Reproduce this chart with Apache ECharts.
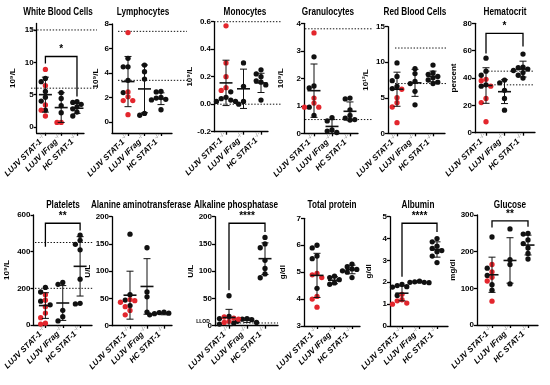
<!DOCTYPE html>
<html><head><meta charset="utf-8">
<script src="https://cdn.jsdelivr.net/npm/echarts@6/dist/echarts.min.js"></script>
<style>html,body{margin:0;padding:0;background:#fff}#c{width:550px;height:385px}</style>
</head><body><div id="c"></div><script>
// ---------- categories / labels ----------
const groups = ['LUJV STAT-1', 'LUJV IFrag', 'HC STAT-1'];
const titles = ['White Blood Cells','Lymphocytes','Monocytes','Granulocytes','Red Blood Cells','Hematocrit',
                'Platelets','Alanine aminotransferase','Alkaline phosphatase','Total protein','Albumin','Glucose'];
const yNames = ['10⁹/L','10⁹/L','10⁹/L','10⁹/L','10¹²/L','percent','10⁹/L','U/L','U/L','g/dl','g/dl','mg/dl'];
const yTicks = [[0,5,10,15],[0,2,4,6,8],[-0.2,0,0.2,0.4,0.6],[0,1,2,3,4],[0,5,10,15],[0,20,40,60,80],
                [0,200,400,600],[0,50,100,150,200],[0,50,100,150,200],[3,4,5,6,7],[0,1,2,3,4,5],[0,100,200,300]];

// ---------- data (per group: LUJV STAT-1, LUJV IFrag, HC STAT-1) ----------
const wbcBlack = [[7.5,7.0,5.5,4.6,4.0,2.6],[5.3,4.4,3.3,2.2],[3.9,3.8,3.5,3.1,2.8,2.3,1.7]];
const wbcRed   = [[8.9,6.4,3.4,2.6,1.7],[0.7,0.7],[]];
const wbcMean  = [5.0,3.0,2.9];
const wbcSd    = [2.7,2.3,0.8];
const wbcRef   = [15,6];

const lymBlack = [[5.2,4.5,4.5,3.4,2.4],[4.65,4.1,3.5,0.7,0.55],[2.5,2.45,2.0,1.95,1.85,1.8,1.0]];
const lymRed   = [[7.3,2.45,2.05,1.75,1.75,0.6],[],[]];
const lymMean  = [3.3,2.7,1.9];
const lymSd    = [2.05,1.95,0.48];
const lymRef   = [7.4,3.4];

const monBlack = [[0.09,0.05,0.04,0.03,0.02,0.02],[0.30,0.13,0.02,0.0],[0.25,0.22,0.20,0.17,0.16,0.14,0.03]];
const monRed   = [[0.57,0.30,0.20,0.12,0.10],[],[]];
const monMean  = [0.155,0.112,0.155];
const monSd    = [0.165,0.143,0.07];
const monRef   = [0.6,0.0];

const graBlack = [[2.78,1.72,1.65,0.95,0.65],[0.57,0.45,0.12,0.08,0.03],[1.28,1.25,0.85,0.65,0.55,0.5,0.48]];
const graRed   = [[3.65,1.28,1.1,0.95,0.95],[],[]];
const graMean  = [1.55,0.25,0.8];
const graSd    = [0.97,0.25,0.34];
const graRef   = [3.8,0.5];

const rbcBlack = [[9.9,8.0,7.4,6.6,6.3,6.1],[9.1,8.4,7.3,7.0,5.9,4.0],[9.6,8.5,8.3,8.0,7.8,7.5,7.2,7.0]];
const rbcRed   = [[6.2,5.0,4.3,3.7,1.5],[],[]];
const rbcMean  = [6.2,7.1,8.0];
const rbcSd    = [2.4,1.9,0.75];
const rbcRef   = [12,7];

const hctBlack = [[54.5,45,42,35,34],[38.5,36.5,31,25,16.5],[57.5,48,47.5,46.5,45.5,44,42,40]];
const hctRed   = [[39,38,34,25,22,8],[],[]];
const hctMean  = [34.5,30,46.5];
const hctSd    = [13,8.7,5.8];
const hctRef   = [45,35];

const pltBlack = [[205,180,130,110],[232,222,80,45,22],[490,462,440,410,250,115,118]];
const pltRed   = [[165,135,100,65,40,10,5],[],[]];
const pltMean  = [106,120,320];
const pltSd    = [70,95,162];
const pltRef   = [450,200];

const altBlack = [[168,57,47,37],[143,62,53,25],[25,24,23,22,21,20,20]];
const altRed   = [[48,46,43,35,28,20],[],[]];
const altMean  = [56,72,22];
const altSd    = [44,51,2];
const altRef   = [];

const alpBlack = [[55,17,13,5,3],[13,12,11,8,6],[162,150,143,120,105,95,88]];
const alpRed   = [[16,14,12,10,8,6],[],[]];
const alpMean  = [15,10,123];
const alpSd    = [15,4,29];
const alpRef   = [5];

const tpBlack  = [[6.0,5.9,5.6,5.5,4.4],[4.85,4.8,4.72,4.6,4.55],[5.3,5.2,5.12,5.1,5.05,5.0,4.8]];
const tpRed    = [[4.95,4.9,4.8,4.1,4.0,3.7],[],[]];
const tpMean   = [4.88,4.7,5.1];
const tpSd     = [0.82,0.13,0.16];
const tpRef    = [];

const albBlack = [[1.9,1.85,1.8,1.78,1.4],[2.05,2.02,2.0,2.0,1.98],[4.0,3.85,3.65,3.55,3.45,3.4,3.2,2.9]];
const albRed   = [[1.45,1.2,1.15,1.05,1.0],[],[]];
const albMean  = [1.5,2.01,3.5];
const albSd    = [0.35,0.03,0.35];
const albRef   = [];

const gluBlack = [[240,155,135,110,95],[262,178,165,112],[250,248,232,222,210,195,180]];
const gluRed   = [[165,145,130,120,65],[],[]];
const gluMean  = [137,176,218];
const gluSd    = [48,62,27];
const gluRef   = [];

// significance brackets: panel index, top value, left leg end, right leg end, label
const sigPanel = [0,5,6,8,10,11];
const sigTop   = [10.9,72.7,555,188,4.7,284];
const sigLeft  = [9.8,58,427,65,2.25,266];
const sigRight = [4.7,63,515,172,4.3,268];
const sigLabel = ['*','*','**','****','****','**'];

// ---------- layout (pixels) ----------
const FONT = "'Liberation Sans','Arial',sans-serif";
const P = [
 {black:wbcBlack,red:wbcRed,mean:wbcMean,sd:wbcSd,ref:wbcRef, tx:58, ty:12, nameX:10, L:30,R:84,T:23.5,B:132.8,ymin:-0.9,ymax:16, c0:40,s:18, refX:[31,97]},
 {black:lymBlack,red:lymRed,mean:lymMean,sd:lymSd,ref:lymRef, tx:143,ty:12, nameX:100,L:112,R:172,T:24,B:133,ymin:-0.9,ymax:8, c0:128,s:16.5, refX:[118,187]},
 {black:monBlack,red:monRed,mean:monMean,sd:monSd,ref:monRef, tx:245,ty:12, nameX:195,L:214,R:268,T:21.7,B:131.7,ymin:-0.2,ymax:0.6, c0:226,s:17.5, refX:[214,282], dec:1},
 {black:graBlack,red:graRed,mean:graMean,sd:graSd,ref:graRef, tx:328,ty:12, nameX:285,L:304,R:358,T:23.3,B:133.3,ymin:0,ymax:4, c0:314,s:18, refX:[305,372]},
 {black:rbcBlack,red:rbcRed,mean:rbcMean,sd:rbcSd,ref:rbcRef, tx:415,ty:12, nameX:370,L:388,R:445,T:26.7,B:133.3,ymin:0,ymax:15, c0:397,s:18, refX:[395,446]},
 {black:hctBlack,red:hctRed,mean:hctMean,sd:hctSd,ref:hctRef, tx:505,ty:12, nameX:458,L:475,R:535,T:23.3,B:132.7,ymin:0,ymax:80, c0:486,s:18.5, refX:[485,533]},
 {black:pltBlack,red:pltRed,mean:pltMean,sd:pltSd,ref:pltRef, tx:63, ty:205,nameX:10, L:33,R:92,T:215,B:325,ymin:0,ymax:600, c0:45,s:17.5, refX:[35,93]},
 {black:altBlack,red:altRed,mean:altMean,sd:altSd,ref:altRef, tx:141,ty:205,nameX:95, L:112,R:172,T:216.7,B:325.7,ymin:0,ymax:200, c0:130,s:17},
 {black:alpBlack,red:alpRed,mean:alpMean,sd:alpSd,ref:alpRef, tx:236,ty:205,nameX:197,L:215,R:278,T:216.7,B:325.7,ymin:0,ymax:200, c0:229,s:18, refX:[215,278], refLabel:'LLOD'},
 {black:tpBlack, red:tpRed, mean:tpMean, sd:tpSd, ref:tpRef,  tx:332,ty:205,nameX:287,L:304,R:360,T:218.3,B:326,ymin:3,ymax:7, c0:317,s:17.5},
 {black:albBlack,red:albRed,mean:albMean,sd:albSd,ref:albRef, tx:418,ty:205,nameX:373,L:390,R:448,T:216.7,B:326,ymin:0,ymax:5, c0:402,s:17.5},
 {black:gluBlack,red:gluRed,mean:gluMean,sd:gluSd,ref:gluRef, tx:510,ty:205,nameX:458,L:477,R:538,T:215,B:325,ymin:0,ymax:300, c0:492,s:18}
];

const SYM = 5.3;
// simple beeswarm layout of the points of one group (offsets in pixels -> axis units)
function swarm(blackVals, redVals, cat, pxX, pxY) {
  const pts = blackVals.map(v => ({v, red:false})).concat(redVals.map(v => ({v, red:true})));
  pts.sort((a, b) => b.v - a.v);
  const placed = [];
  const step = SYM * 0.9;
  for (const p of pts) {
    for (const k of [0, -1, 1, -2, 2, -3, 3, -4, 4]) {
      const dx = k * step;
      const ok = placed.every(q => Math.hypot(q.dx - dx, (q.v - p.v) * pxY) >= SYM * 0.88);
      if (ok) { p.dx = dx; break; }
    }
    if (p.dx === undefined) p.dx = 0;
    placed.push(p);
  }
  return pts.map(p => ({value: [cat + p.dx / pxX, p.v], red: p.red}));
}

const grid = [], xAxis = [], yAxis = [], series = [], graphic = [];
P.forEach((p, i) => {
  const xmin = (p.L - p.c0) / p.s, xmax = (p.R - p.c0) / p.s;
  const pxY = (p.B - p.T) / (p.ymax - p.ymin);
  grid.push({left: p.L, top: p.T, width: p.R - p.L, height: p.B - p.T});
  const axisLineStyle = {color: '#000', width: 1.3};
  xAxis.push({
    gridIndex: i, type: 'value', min: xmin, max: xmax,
    axisLine: {show: true, onZero: false, lineStyle: axisLineStyle},
    splitLine: {show: false},
    axisTick: {show: true, customValues: [0,1,2], length: 3, lineStyle: axisLineStyle},
    axisLabel: {
      customValues: [0,1,2], rotate: 45, margin: 3, interval: 0,
      formatter: v => '{a|' + groups[Math.round(v)] + '}{s|-/-}',
      rich: {
        a: {fontFamily: FONT, fontWeight: 'bold', fontStyle: 'italic', fontSize: 8, color: '#000', lineHeight: 10},
        s: {fontFamily: FONT, fontSize: 6, color: '#777', lineHeight: 10, padding: [0,0,5,1]}
      }
    }
  });
  yAxis.push({
    gridIndex: i, type: 'value', min: p.ymin, max: p.ymax,
    name: yNames[i], nameLocation: 'middle', nameGap: p.L - p.nameX, nameRotate: 90,
    nameTextStyle: {fontFamily: FONT, fontWeight: 'bold', fontSize: 8, color: '#000'},
    axisLine: {show: true, onZero: false, lineStyle: axisLineStyle},
    splitLine: {show: false},
    axisTick: {show: true, customValues: yTicks[i], length: 3, lineStyle: axisLineStyle},
    axisLabel: {
      customValues: yTicks[i], margin: 3,
      formatter: v => p.dec ? Number(v).toFixed(p.dec) : String(Math.round(v)),
      fontFamily: FONT, fontWeight: 'bold', fontSize: 8, color: '#000'
    }
  });
  // points
  const red = [], black = [];
  for (let g = 0; g < 3; g++) {
    swarm(p.black[g], p.red[g], g, p.s, pxY).forEach(d => (d.red ? red : black).push(d.value));
  }
  series.push({type: 'scatter', xAxisIndex: i, yAxisIndex: i, data: black, symbolSize: SYM,
    itemStyle: {color: '#111', opacity: 1}, z: 2, silent: true});
  series.push({type: 'scatter', xAxisIndex: i, yAxisIndex: i, data: red, symbolSize: SYM,
    itemStyle: {color: '#e3262d', opacity: 1}, z: 2, silent: true});
  // mean +- SD
  series.push({
    type: 'custom', xAxisIndex: i, yAxisIndex: i, z: 3, silent: true, clip: false,
    data: p.mean.map((m, g) => [g, m, p.sd[g]]), encode: {x: 0, y: 1},
    renderItem: (params, api) => {
      const x = api.value(0), m = api.value(1), sd = api.value(2);
      const c = api.coord([x, m]), t = api.coord([x, m + sd]), b = api.coord([x, m - sd]);
      const st = {stroke: '#111', lineWidth: 1};
      return {type: 'group', children: [
        {type: 'line', shape: {x1: c[0] - 6.5, y1: c[1], x2: c[0] + 6.5, y2: c[1]}, style: {stroke: '#111', lineWidth: 1.6}},
        {type: 'line', shape: {x1: t[0], y1: t[1], x2: b[0], y2: b[1]}, style: st},
        {type: 'line', shape: {x1: t[0] - 3.5, y1: t[1], x2: t[0] + 3.5, y2: t[1]}, style: st},
        {type: 'line', shape: {x1: b[0] - 3.5, y1: b[1], x2: b[0] + 3.5, y2: b[1]}, style: st}
      ]};
    }
  });
  // dotted reference lines
  if (p.ref.length) {
    series.push({
      type: 'custom', xAxisIndex: i, yAxisIndex: i, z: 1, silent: true, clip: false,
      data: p.ref.map(r => [0, r]), encode: {x: 0, y: 1},
      renderItem: (params, api) => {
        const y = api.coord([0, api.value(1)])[1];
        const ch = [{type: 'line', shape: {x1: p.refX[0], y1: y, x2: p.refX[1], y2: y},
          style: {stroke: '#111', lineWidth: 1, lineDash: [1.4, 1.7]}}];
        if (p.refLabel) ch.push({type: 'text', style: {text: p.refLabel, x: p.L - 12, y: y - 1,
          textAlign: 'center', textVerticalAlign: 'middle', font: 'bold 5px ' + FONT, fill: '#000'}});
        return {type: 'group', children: ch};
      }
    });
  }
  // significance bracket
  const si = sigPanel.indexOf(i);
  if (si >= 0) {
    const lab = sigLabel[si];
    series.push({
      type: 'custom', xAxisIndex: i, yAxisIndex: i, z: 4, silent: true, clip: false,
      data: [[0, 2, sigTop[si], sigLeft[si], sigRight[si]]], encode: {x: 0, y: 2},
      renderItem: (params, api) => {
        const a = api.coord([api.value(0), api.value(2)]), b = api.coord([api.value(1), api.value(2)]);
        const l = api.coord([api.value(0), api.value(3)]), r = api.coord([api.value(1), api.value(4)]);
        return {type: 'group', children: [
          {type: 'polyline', shape: {points: [[l[0], l[1]], [a[0], a[1]], [b[0], b[1]], [r[0], r[1]]]},
            style: {stroke: '#000', lineWidth: 1.3, fill: 'none'}},
          {type: 'text', style: {text: lab, x: (a[0] + b[0]) / 2, y: a[1] - 2,
            textAlign: 'center', textVerticalAlign: 'bottom', font: 'bold 10px ' + FONT, fill: '#000'}}
        ]};
      }
    });
  }
  graphic.push({type: 'text', x: p.tx, y: p.ty, scaleX: 0.78, silent: true,
    style: {text: titles[i], textAlign: 'center', textVerticalAlign: 'middle',
      font: 'bold 10.5px ' + FONT, fill: '#000'}});
});

const chart = echarts.init(document.getElementById('c'), null, {renderer: 'canvas'});
chart.setOption({animation: false, backgroundColor: '#fff', grid, xAxis, yAxis, series, graphic});
</script></body></html>
